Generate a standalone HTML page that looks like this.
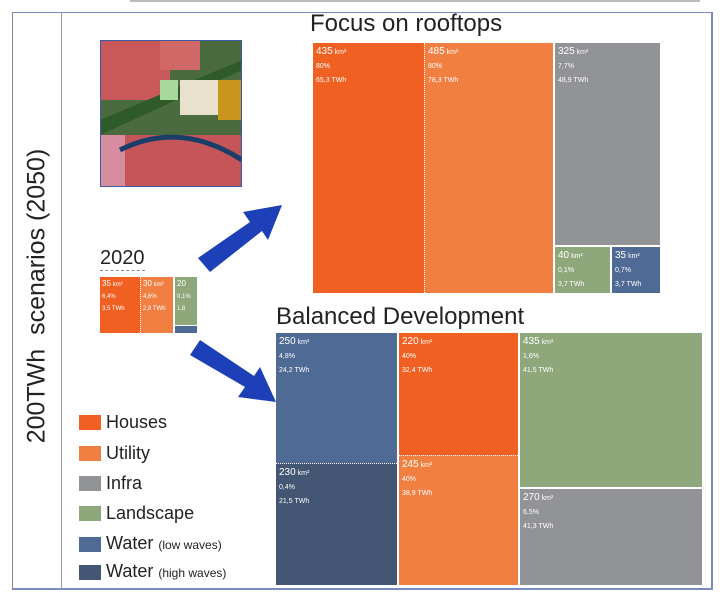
<!DOCTYPE html>
<html><head><style>
body{margin:0;width:726px;height:602px;background:#fff;position:relative;overflow:hidden;font-family:"Liberation Sans",sans-serif}
.a{position:absolute}
.b{position:absolute;color:#fff;box-sizing:border-box;padding:2px 3px;font-size:7px;line-height:14px;opacity:1}
.b span{font-size:10px}
.c1{background:#ef6022}.c2{background:#f27f42}.c3{background:#929396}.c4{background:#8fa87b}.c5{background:#4f6a95}.c6{background:#435673}
.lg{position:absolute;left:79px;width:22px;height:15px}
.lt{position:absolute;left:106px;font-size:18px;color:#222;line-height:20px}
.lt small{font-size:12px}
</style></head><body>
<div class="a" style="left:130px;top:0;width:570px;height:2px;background:#bbb"></div>
<div class="a" style="left:12px;top:12px;width:701px;height:578px;border:1px solid #888;border-top-color:#7a8bc0;border-right:2px solid #7a8bc0;border-bottom:2px solid #7a8bc0;box-sizing:border-box"></div>
<div class="a" style="left:61px;top:12px;width:1px;height:578px;background:#999"></div>
<div class="a" style="left:37px;top:296px;transform:translate(-50%,-50%) rotate(-90deg);white-space:nowrap;font-size:25px;color:#222">200TWh&nbsp; scenarios (2050)</div>
<svg class="a" style="left:100px;top:40px" width="142" height="147">
<rect width="142" height="147" fill="#4a6a3f"/>
<rect x="0" y="0" width="70" height="60" fill="#c9585a"/>
<rect x="60" y="0" width="40" height="30" fill="#d06868"/>
<polygon points="0,80 142,20 142,30 0,95" fill="#2f5a2a"/>
<rect x="80" y="40" width="40" height="35" fill="#e8e2cc"/>
<rect x="118" y="40" width="24" height="40" fill="#c8951d"/>
<rect x="0" y="95" width="142" height="52" fill="#c55558"/>
<rect x="0" y="95" width="25" height="52" fill="#d78ca0"/>
<path d="M20,110 Q80,80 142,120" stroke="#1b3d6a" stroke-width="5" fill="none"/>
<rect x="60" y="40" width="18" height="20" fill="#a8d89a"/>
<rect x="0.5" y="0.5" width="141" height="146" fill="none" stroke="#3d5aa5"/>
</svg>
<svg class="a" style="left:0;top:0" width="726" height="602">
<polygon points="198,258 250,222 243,212 282,205 268,240 262,231 210,272" fill="#1d3fb8"/>
<polygon points="190,355 245,387 238,397 276,402 260,367 254,376 200,340" fill="#1d3fb8"/>
</svg>
<div class="a" style="left:310px;top:10px;font-size:24px;color:#222">Focus on rooftops</div>
<div class="b c1" style="left:313px;top:43px;width:111px;height:250px"><span>435</span> km²<br>80%<br>65,3 TWh</div>
<div class="b c2" style="left:424px;top:43px;width:129px;height:250px;border-left:1px dotted #fff"><span>485</span> km²<br>80%<br>78,3 TWh</div>
<div class="b c3" style="left:555px;top:43px;width:105px;height:202px"><span>325</span> km²<br>7,7%<br>48,9 TWh</div>
<div class="b c4" style="left:555px;top:247px;width:55px;height:46px"><span>40</span> km²<br>0,1%<br>3,7 TWh</div>
<div class="b c5" style="left:612px;top:247px;width:48px;height:46px"><span>35</span> km²<br>0,7%<br>3,7 TWh</div>
<div class="a" style="left:100px;top:246px;font-size:20px;color:#222;border-bottom:1px dashed #888;line-height:24px">2020</div>
<div class="b c1" style="left:100px;top:277px;width:40px;height:56px;font-size:6px;line-height:12px;padding:1px 2px"><span style="font-size:8px">35</span> km²<br>6,4%<br>3,5 TWh</div>
<div class="b c2" style="left:140px;top:277px;width:33px;height:56px;font-size:6px;line-height:12px;padding:1px 2px;border-left:1px dotted #fff"><span style="font-size:8px">30</span> km²<br>4,6%<br>2,8 TWh</div>
<div class="b c4" style="left:175px;top:277px;width:22px;height:48px;font-size:6px;line-height:12px;padding:1px 2px"><span style="font-size:8px">20</span><br>0,1%<br>1,8</div>
<div class="a c5" style="left:175px;top:326px;width:22px;height:7px"></div>
<div class="a" style="left:276px;top:303px;font-size:24px;color:#222">Balanced Development</div>
<div class="b c5" style="left:276px;top:333px;width:121px;height:130px"><span>250</span> km²<br>4,8%<br>24,2 TWh</div>
<div class="b c6" style="left:276px;top:463px;width:121px;height:122px;border-top:1px dotted #fff"><span>230</span> km²<br>0,4%<br>21,5 TWh</div>
<div class="b c1" style="left:399px;top:333px;width:119px;height:122px"><span>220</span> km²<br>40%<br>32,4 TWh</div>
<div class="b c2" style="left:399px;top:455px;width:119px;height:130px;border-top:1px dotted #fff"><span>245</span> km²<br>40%<br>38,9 TWh</div>
<div class="b c4" style="left:520px;top:333px;width:182px;height:154px"><span>435</span> km²<br>1,6%<br>41,5 TWh</div>
<div class="b c3" style="left:520px;top:489px;width:182px;height:96px"><span>270</span> km²<br>6,5%<br>41,3 TWh</div>
<div class="lg c1" style="top:415px"></div><div class="lt" style="top:412px">Houses</div>
<div class="lg c2" style="top:446px"></div><div class="lt" style="top:443px">Utility</div>
<div class="lg c3" style="top:476px"></div><div class="lt" style="top:473px">Infra</div>
<div class="lg c4" style="top:506px"></div><div class="lt" style="top:503px">Landscape</div>
<div class="lg c5" style="top:537px"></div><div class="lt" style="top:533px">Water <small>(low waves)</small></div>
<div class="lg c6" style="top:565px"></div><div class="lt" style="top:561px">Water <small>(high waves)</small></div>
</body></html>
